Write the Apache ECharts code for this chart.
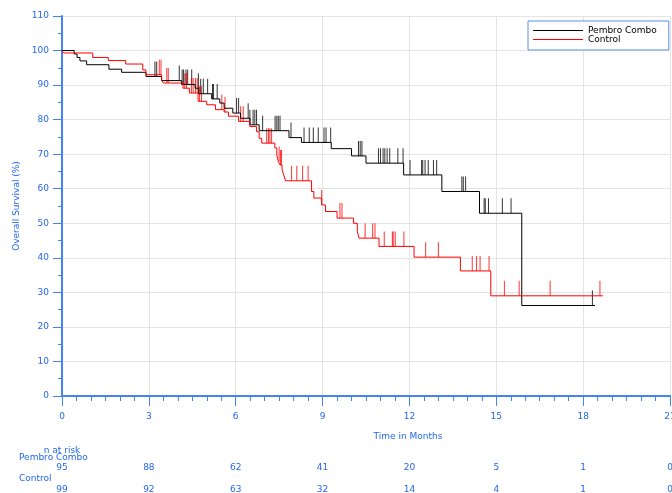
<!DOCTYPE html>
<html>
<head>
<meta charset="utf-8">
<title>Overall Survival</title>
<script src="https://cdn.jsdelivr.net/npm/echarts@6/dist/echarts.min.js"></script>
<style>
  html, body { margin: 0; padding: 0; background: #ffffff; }
  #chart { width: 672px; height: 493px; }
</style>
</head>
<body>
<div id="chart"></div>
<script>
// Kaplan-Meier steps: [time of event (months), survival after event (%)]
const pembroSteps = [
  [0, 100], [0.42, 99.0], [0.52, 98.0], [0.62, 97.0], [0.85, 95.9], [1.62, 94.6],
  [2.06, 93.7], [2.9, 92.5], [3.44, 91.3], [4.13, 90.2], [4.6, 89.1], [4.72, 87.5],
  [5.17, 86.0], [5.45, 84.8], [5.6, 83.3], [5.9, 81.9], [6.17, 80.4], [6.49, 78.5],
  [6.81, 76.8], [7.84, 74.8], [8.27, 73.4], [9.3, 71.6], [10.0, 69.5], [10.5, 67.4],
  [11.8, 64.0], [13.12, 59.2], [14.42, 52.9], [15.88, 26.2]
];
const pembroEnd = 18.41;

const controlSteps = [
  [0, 100], [0.05, 99.3], [1.06, 98.0], [1.6, 97.1], [2.2, 96.1], [2.79, 94.4],
  [2.9, 93.0], [3.44, 91.5], [3.5, 90.6], [4.18, 89.1], [4.4, 87.7], [4.7, 85.3],
  [5.0, 84.3], [5.3, 82.9], [5.6, 82.2], [5.75, 81.0], [6.1, 79.5], [6.49, 78.0],
  [6.72, 76.5], [6.81, 74.6], [6.9, 73.2], [7.35, 71.8], [7.42, 69.8], [7.47, 67.9],
  [7.53, 66.9], [7.6, 65.5], [7.66, 64.0], [7.72, 62.3], [8.62, 59.2], [8.7, 57.3],
  [8.97, 55.3], [9.1, 53.4], [9.5, 51.5], [10.07, 50.0], [10.2, 47.6], [10.26, 45.7],
  [10.95, 43.3], [12.16, 40.2], [13.76, 36.2], [14.81, 29.0]
];
const controlEnd = 18.68;

// Censoring times (months)
const pembroCensored = [
  3.21, 3.27, 4.05, 4.15, 4.2, 4.28, 4.34, 4.48, 4.71, 4.79, 4.88, 5.03, 5.2, 5.23,
  5.36, 6.03, 6.1, 6.43, 6.49, 6.6, 6.66, 6.72, 6.93, 7.36, 7.42, 7.47, 7.53, 7.91,
  8.36, 8.54, 8.68, 8.85, 9.05, 9.12, 9.28, 10.24, 10.3, 10.36, 10.93, 11.0, 11.09,
  11.15, 11.23, 11.32, 11.6, 11.78, 12.02, 12.42, 12.46, 12.54, 12.65, 12.83, 12.94,
  13.81, 13.86, 13.94, 14.58, 14.62, 14.73, 15.21, 15.51, 18.32
];
const controlCensored = [
  3.36, 3.42, 3.62, 3.67, 4.24, 4.3, 4.47, 4.53, 4.61, 4.67, 4.75, 4.82, 5.52, 5.63,
  6.17, 6.26, 7.07, 7.13, 7.18, 7.24, 7.5, 7.55, 7.58, 7.93, 8.11, 8.31, 8.5, 8.97,
  9.6, 9.67, 10.47, 10.73, 10.81, 11.13, 11.41, 11.44, 11.51, 11.81, 12.56, 13.0,
  14.17, 14.32, 14.44, 14.75, 15.28, 15.79, 16.86, 18.58
];

// Number at risk table
const riskTimes = [0, 3, 6, 9, 12, 15, 18, 21];
const pembroAtRisk = [95, 88, 62, 41, 20, 5, 1, 0];
const controlAtRisk = [99, 92, 63, 32, 14, 4, 1, 0];

const seriesNames = ['Pembro Combo', 'Control'];
const xTicks = [0, 21, 3];    // min, max, interval
const yTicks = [0, 110, 10];

const BLUE_TEXT = '#2467ee';
const BLUE_LINE = '#4384f3';
const FONT = 'DejaVu Sans';

function curve(steps, end) {
  const pts = steps.map(s => [s[0], s[1]]);
  pts.push([end, steps[steps.length - 1][1]]);
  return pts;
}
function survivalAt(steps, t) {
  let v = steps[0][1];
  for (const s of steps) { if (s[0] <= t) v = s[1]; else break; }
  return v;
}
function censorPoints(steps, times) {
  return times.map(t => [t, survivalAt(steps, t)]);
}

const chart = echarts.init(document.getElementById('chart'), null, { renderer: 'canvas' });

const censorSymbol = {
  type: 'scatter',
  symbol: 'rect',
  symbolSize: [1, 15],
  symbolOffset: [0, -7.5],
  silent: true,
  z: 3
};

chart.setOption({
  animation: false,
  backgroundColor: '#ffffff',
  grid: { left: 62, right: 2, top: 16, bottom: 97, containLabel: false, outerBoundsMode: 'none' },
  legend: {
    data: seriesNames,
    orient: 'vertical',
    left: 528,
    top: 21,
    padding: [5, 12, 6, 5],
    icon: 'rect',
    itemWidth: 50,
    itemHeight: 1,
    itemGap: 0,
    backgroundColor: '#ffffff',
    borderColor: '#5a8ef0',
    borderWidth: 1,
    borderRadius: 0,
    textStyle: { fontFamily: FONT, fontSize: 9, color: '#000000', lineHeight: 9, padding: [0, 0, 0, 0] }
  },
  xAxis: {
    type: 'value',
    min: xTicks[0], max: xTicks[1], interval: xTicks[2],
    axisLine: { show: true, onZero: false, lineStyle: { color: BLUE_LINE, width: 2 } },
    axisTick: { show: true, length: 10, lineStyle: { color: BLUE_LINE } },
    minorTick: { show: true, splitNumber: 6, length: 5, lineStyle: { color: BLUE_LINE } },
    axisLabel: { color: BLUE_TEXT, fontFamily: FONT, fontSize: 9, margin: 16 },
    splitLine: { show: true, lineStyle: { color: '#e4e4e4', width: 1 } }
  },
  yAxis: {
    type: 'value',
    min: yTicks[0], max: yTicks[1], interval: yTicks[2],
    name: 'Overall Survival (%)',
    nameLocation: 'middle',
    nameGap: 41,
    nameTextStyle: { color: BLUE_TEXT, fontFamily: FONT, fontSize: 9 },
    axisLine: { show: true, lineStyle: { color: BLUE_LINE, width: 2 } },
    axisTick: { show: true, length: 9, lineStyle: { color: BLUE_LINE } },
    minorTick: { show: true, splitNumber: 2, length: 4, lineStyle: { color: BLUE_LINE } },
    axisLabel: { color: BLUE_TEXT, fontFamily: FONT, fontSize: 9, margin: 13 },
    splitLine: { show: true, lineStyle: { color: '#e4e4e4', width: 1 } }
  },
  series: [
    {
      name: seriesNames[0], type: 'line', step: 'end', symbol: 'none',
      data: curve(pembroSteps, pembroEnd),
      lineStyle: { color: '#000000', width: 1 }, itemStyle: { color: '#000000' }, z: 4
    },
    {
      name: seriesNames[1], type: 'line', step: 'end', symbol: 'none',
      data: curve(controlSteps, controlEnd),
      lineStyle: { color: '#ff0000', width: 1 }, itemStyle: { color: '#ff0000' }, z: 4
    },
    Object.assign({}, censorSymbol, {
      name: 'pembro-censored',
      data: censorPoints(pembroSteps, pembroCensored),
      itemStyle: { color: '#000000' }
    }),
    Object.assign({}, censorSymbol, {
      name: 'control-censored',
      data: censorPoints(controlSteps, controlCensored),
      itemStyle: { color: '#ff0000' }
    })
  ]
});

// Axis title and number-at-risk table, placed through the x scale
const px = t => chart.convertToPixel({ xAxisIndex: 0 }, t);
const txt = (x, y, s, align) => ({
  type: 'text', x: x, y: y,
  style: { text: s, fill: BLUE_TEXT, font: '9px ' + FONT, align: align || 'center', verticalAlign: 'middle' }
});
const elements = [
  txt(408, 437, 'Time in Months'),
  txt(px(0), 451, 'n at risk'),
  txt(19, 458, 'Pembro Combo', 'left'),
  txt(19, 479, 'Control', 'left')
];
riskTimes.forEach((t, i) => {
  elements.push(txt(px(t), 468, String(pembroAtRisk[i])));
  elements.push(txt(px(t), 490, String(controlAtRisk[i])));
});
chart.setOption({ graphic: { elements: elements } });
</script>
</body>
</html>
